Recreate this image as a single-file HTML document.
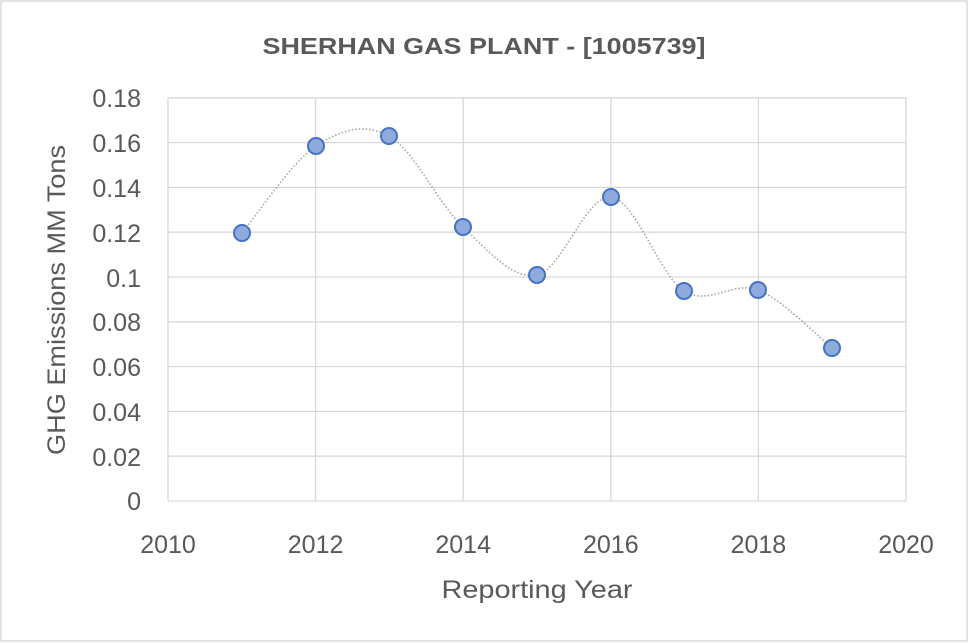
<!DOCTYPE html>
<html><head><meta charset="utf-8"><style>
html,body{margin:0;padding:0;background:#fff;}
svg{display:block;}
text{font-family:"Liberation Sans",sans-serif;fill:#595959;}
</style></head><body>
<svg width="968" height="643" viewBox="0 0 968 643" xmlns="http://www.w3.org/2000/svg">
<rect x="1" y="1" width="966" height="640" fill="#fff" stroke="#d9d9d9" stroke-width="1.5"/>
<text x="484" y="54" font-size="23" font-weight="bold" text-anchor="middle" textLength="443" lengthAdjust="spacingAndGlyphs">SHERHAN GAS PLANT - [1005739]</text>
<g stroke="#d9d9d9" stroke-width="1.3" fill="none">
<line x1="168" y1="97.8" x2="906" y2="97.8"/>
<line x1="168" y1="142.6" x2="906" y2="142.6"/>
<line x1="168" y1="187.4" x2="906" y2="187.4"/>
<line x1="168" y1="232.2" x2="906" y2="232.2"/>
<line x1="168" y1="277" x2="906" y2="277"/>
<line x1="168" y1="321.8" x2="906" y2="321.8"/>
<line x1="168" y1="366.6" x2="906" y2="366.6"/>
<line x1="168" y1="411.4" x2="906" y2="411.4"/>
<line x1="168" y1="456.2" x2="906" y2="456.2"/>
<line x1="168" y1="501" x2="906" y2="501"/>
<line x1="168" y1="97.8" x2="168" y2="501"/>
<line x1="315.6" y1="97.8" x2="315.6" y2="501"/>
<line x1="463.2" y1="97.8" x2="463.2" y2="501"/>
<line x1="610.8" y1="97.8" x2="610.8" y2="501"/>
<line x1="758.4" y1="97.8" x2="758.4" y2="501"/>
<line x1="906" y1="97.8" x2="906" y2="501"/>
</g>
<g font-size="25" text-anchor="end">
<text x="141" y="107">0.18</text>
<text x="141" y="152">0.16</text>
<text x="141" y="197">0.14</text>
<text x="141" y="242">0.12</text>
<text x="141" y="287">0.1</text>
<text x="141" y="331">0.08</text>
<text x="141" y="376">0.06</text>
<text x="141" y="421">0.04</text>
<text x="141" y="466">0.02</text>
<text x="141" y="510">0</text>
</g>
<g font-size="25" text-anchor="middle">
<text x="168" y="553">2010</text>
<text x="315.6" y="553">2012</text>
<text x="463.2" y="553">2014</text>
<text x="610.8" y="553">2016</text>
<text x="758.4" y="553">2018</text>
<text x="906" y="553">2020</text>
</g>
<text x="537" y="598" font-size="25" text-anchor="middle" textLength="191" lengthAdjust="spacingAndGlyphs">Reporting Year</text>
<text transform="translate(65,300) rotate(-90)" font-size="25" text-anchor="middle" textLength="310" lengthAdjust="spacingAndGlyphs">GHG Emissions MM Tons</text>
<path d="M242,233 C254.3,218.5 291.5,162.2 316,146 C340.5,129.8 364.5,122.5 389,136 C413.5,149.5 438.3,203.8 463,227 C487.7,250.2 512.3,280 537,275 C561.7,270 586.5,194.3 611,197 C635.5,199.7 659.5,275.5 684,291 C708.5,306.5 733.3,280.5 758,290 C782.7,299.5 819.7,338.3 832,348" fill="none" stroke="#a6a6a6" stroke-width="1.6" stroke-dasharray="1.5,2"/>
<g fill="#8faadc" stroke="#4472c4" stroke-width="2">
<circle cx="242" cy="233" r="8"/>
<circle cx="316" cy="146" r="8"/>
<circle cx="389" cy="136" r="8"/>
<circle cx="463" cy="227" r="8"/>
<circle cx="537" cy="275" r="8"/>
<circle cx="611" cy="197" r="8"/>
<circle cx="684" cy="291" r="8"/>
<circle cx="758" cy="290" r="8"/>
<circle cx="832" cy="348" r="8"/>
</g>
</svg>
</body></html>
